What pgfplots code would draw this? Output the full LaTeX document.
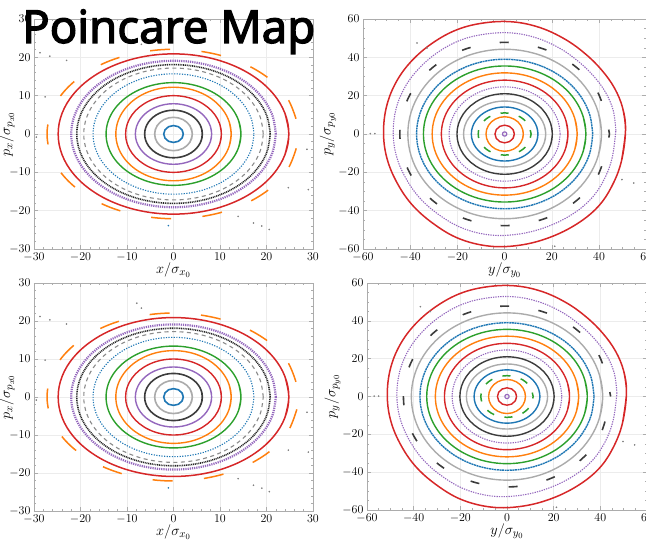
\documentclass[border=0pt]{standalone}
\usepackage{fontspec}
\usepackage{graphicx}
\usepackage{pgfplots}
\pgfplotsset{compat=1.18}
\newfontfamily\titlefont{Noto Sans}[FakeBold=2.6]
\definecolor{cblue}{HTML}{1F77B4}
\definecolor{corange}{HTML}{FF7F0E}
\definecolor{cgreen}{HTML}{2CA02C}
\definecolor{cred}{HTML}{D62728}
\definecolor{cpurple}{HTML}{9467BD}
\definecolor{cgray}{HTML}{8A8A8A}
\definecolor{clgray}{HTML}{ABABAB}
\definecolor{cdgray}{HTML}{3C3C3C}
\pgfplotsset{
  panel/.style={
    scale only axis, anchor=south west,
    axis line style={gray!65, line width=0.5pt},
    tick style={gray!65, line width=0.4pt},
    tick align=inside,
    major tick length=4pt, minor tick length=2pt,
    grid=major, major grid style={gray!15, line width=0.4pt},
    tick label style={font=\fontsize{11.5}{12}\selectfont},
    label style={font=\fontsize{15.5}{17}\selectfont},
    xlabel style={at={(axis description cs:0.5,0)}, anchor=center, yshift=-21pt},
  },
  ring/.style={smooth, tension=0.62, mark=none, line width=1.4pt},
}
\newcommand{\leftcurves}{%
\addplot[ring, cblue, line width=1.6pt] coordinates {(1.82,-1.1) (2.1,0) (1.82,1.1) (1.05,1.91) (0,2.2) (-1.05,1.91) (-1.82,1.1) (-2.1,0) (-1.82,-1.1) (-1.05,-1.91) (0,-2.2) (1.05,-1.91) (1.82,-1.1) (2.1,0) (1.82,1.1)};
\addplot[ring, clgray, line width=1.6pt] coordinates {(3.51,-2.18) (4.05,0) (3.51,2.18) (2.03,3.77) (0,4.35) (-2.03,3.77) (-3.51,2.18) (-4.05,0) (-3.51,-2.18) (-2.03,-3.77) (0,-4.35) (2.03,-3.77) (3.51,-2.18) (4.05,0) (3.51,2.18)};
\addplot[ring, cdgray, line width=1.6pt] coordinates {(5.99,-1.61) (6.2,0) (5.99,1.61) (5.37,3.1) (4.38,4.38) (3.1,5.37) (1.61,5.99) (0,6.2) (-1.61,5.99) (-3.1,5.37) (-4.38,4.38) (-5.37,3.1) (-5.99,1.61) (-6.2,0) (-5.99,-1.61) (-5.37,-3.1) (-4.38,-4.38) (-3.1,-5.37) (-1.61,-5.99) (0,-6.2) (1.61,-5.99) (3.1,-5.37) (4.38,-4.38) (5.37,-3.1) (5.99,-1.61) (6.2,0) (5.99,1.61)};
\addplot[ring, cpurple] coordinates {(7.92,-2.05) (8.2,0) (7.92,2.05) (7.1,3.95) (5.8,5.59) (4.1,6.84) (2.12,7.63) (0,7.9) (-2.12,7.63) (-4.1,6.84) (-5.8,5.59) (-7.1,3.95) (-7.92,2.05) (-8.2,0) (-7.92,-2.05) (-7.1,-3.95) (-5.8,-5.59) (-4.1,-6.84) (-2.12,-7.63) (0,-7.9) (2.12,-7.63) (4.1,-6.84) (5.8,-5.59) (7.1,-3.95) (7.92,-2.05) (8.2,0) (7.92,2.05)};
\addplot[ring, cred] coordinates {(9.95,-2.59) (10.3,0) (9.95,2.59) (8.92,5) (7.28,7.07) (5.15,8.66) (2.67,9.66) (0,10) (-2.67,9.66) (-5.15,8.66) (-7.28,7.07) (-8.92,5) (-9.95,2.59) (-10.3,0) (-9.95,-2.59) (-8.92,-5) (-7.28,-7.07) (-5.15,-8.66) (-2.67,-9.66) (0,-10) (2.67,-9.66) (5.15,-8.66) (7.28,-7.07) (8.92,-5) (9.95,-2.59) (10.3,0) (9.95,2.59)};
\addplot[ring, corange] coordinates {(11.98,-3.16) (12.4,0) (11.98,3.16) (10.74,6.1) (8.77,8.63) (6.2,10.57) (3.21,11.79) (0,12.2) (-3.21,11.79) (-6.2,10.57) (-8.77,8.63) (-10.74,6.1) (-11.98,3.16) (-12.4,0) (-11.98,-3.16) (-10.74,-6.1) (-8.77,-8.63) (-6.2,-10.57) (-3.21,-11.79) (0,-12.2) (3.21,-11.79) (6.2,-10.57) (8.77,-8.63) (10.74,-6.1) (11.98,-3.16) (12.4,0) (11.98,3.16)};
\addplot[ring, cgreen] coordinates {(14.01,-3.47) (14.5,0) (14.01,3.47) (12.56,6.7) (10.25,9.47) (7.25,11.6) (3.76,12.94) (0,13.4) (-3.76,12.94) (-7.25,11.6) (-10.25,9.47) (-12.56,6.7) (-14.01,3.47) (-14.5,0) (-14.01,-3.47) (-12.56,-6.7) (-10.25,-9.47) (-7.25,-11.6) (-3.76,-12.94) (0,-13.4) (3.76,-12.94) (7.25,-11.6) (10.25,-9.47) (12.56,-6.7) (14.01,-3.47) (14.5,0) (14.01,3.47)};
\addplot[ring, cblue, line width=1.1pt, dash pattern=on 1.2pt off 1.4pt] coordinates {(17.3,0) (16.71,4.07) (14.98,7.85) (12.23,11.1) (8.65,13.6) (4.48,15.17) (0,15.7) (-4.48,15.17) (-8.65,13.6) (-12.23,11.1) (-14.98,7.85) (-16.71,4.07) (-17.3,0) (-16.71,-4.07) (-14.98,-7.85) (-12.23,-11.1) (-8.65,-13.6) (-4.48,-15.17) (0,-15.7) (4.48,-15.17) (8.65,-13.6) (12.23,-11.1) (14.98,-7.85) (16.71,-4.07) (17.3,0)};
\addplot[ring, cgray, line width=1.1pt, dash pattern=on 4pt off 3.5pt] coordinates {(19.3,0) (18.64,4.45) (16.71,8.6) (13.65,12.16) (9.65,14.9) (5,16.62) (0,17.2) (-5,16.62) (-9.65,14.9) (-13.65,12.16) (-16.71,8.6) (-18.64,4.45) (-19.3,0) (-18.64,-4.45) (-16.71,-8.6) (-13.65,-12.16) (-9.65,-14.9) (-5,-16.62) (0,-17.2) (5,-16.62) (9.65,-14.9) (13.65,-12.16) (16.71,-8.6) (18.64,-4.45) (19.3,0)};
\addplot[ring, black!85, line width=1.6pt, dash pattern=on 1pt off 0.8pt] coordinates {(20.8,0) (20.09,4.69) (18.01,9.05) (14.71,12.8) (10.4,15.67) (5.39,17.48) (0,18.1) (-5.39,17.48) (-10.4,15.67) (-14.71,12.8) (-18.01,9.05) (-20.09,4.69) (-20.8,0) (-20.09,-4.69) (-18.01,-9.05) (-14.71,-12.8) (-10.4,-15.67) (-5.39,-17.48) (0,-18.1) (5.39,-17.48) (10.4,-15.67) (14.71,-12.8) (18.01,-9.05) (20.09,-4.69) (20.8,0)};
\addplot[ring, cpurple, line width=2.2pt, dash pattern=on 1.2pt off 1pt] coordinates {(22,0) (21.25,4.95) (19.05,9.55) (15.55,13.5) (11,16.54) (5.7,18.45) (0,19.1) (-5.7,18.45) (-11,16.54) (-15.55,13.5) (-19.05,9.55) (-21.25,4.95) (-22,0) (-21.25,-4.95) (-19.05,-9.55) (-15.55,-13.5) (-11,-16.54) (-5.7,-18.45) (0,-19.1) (5.7,-18.45) (11,-16.54) (15.55,-13.5) (19.05,-9.55) (21.25,-4.95) (22,0)};
\addplot[ring, cred, line width=1.5pt] coordinates {(23.96,-5.41) (24.8,0) (23.96,5.41) (21.48,10.45) (17.53,14.78) (12.4,18.1) (6.42,20.19) (0,20.9) (-6.42,20.19) (-12.4,18.1) (-17.53,14.78) (-21.48,10.45) (-23.96,5.41) (-24.8,0) (-23.96,-5.41) (-21.48,-10.45) (-17.53,-14.78) (-12.4,-18.1) (-6.42,-20.19) (0,-20.9) (6.42,-20.19) (12.4,-18.1) (17.53,-14.78) (21.48,-10.45) (23.96,-5.41) (24.8,0) (23.96,5.41)};
\addplot[ring, corange, line width=1.5pt, dash pattern=on 20pt off 31.5pt, dash phase=35.75pt] coordinates {(27.2,0) (23.56,11.05) (13.6,19.14) (0,22.1) (-13.6,19.14) (-23.56,11.05) (-27.2,0) (-23.56,-11.05) (-13.6,-19.14) (0,-22.1) (13.6,-19.14) (23.56,-11.05) (27.2,0)};
\addplot[only marks, mark=*, mark size=0.6pt, gray] coordinates {(-28.7,21.2) (-26.6,20.3) (-23,19.2) (-7.9,24.7) (-6.9,23.4) (-27.6,9.7) (-29.5,-0.8) (13.9,-21.5) (17.2,-23.2) (19,-24) (20.6,-24.9) (24.7,-14) (29,-14.5) (28.7,-4)};
\addplot[only marks, mark=*, mark size=0.6pt, cblue] coordinates {(-1.1,-23.9)};
}
\newcommand{\rightcurves}{%
\addplot[ring, cpurple, line width=1.2pt] coordinates {(0.78,-0.55) (0.9,0) (0.78,0.55) (0.45,0.95) (0,1.1) (-0.45,0.95) (-0.78,0.55) (-0.9,0) (-0.78,-0.55) (-0.45,-0.95) (0,-1.1) (0.45,-0.95) (0.78,-0.55) (0.9,0) (0.78,0.55)};
\addplot[ring, cred] coordinates {(3.55,-2.3) (4.1,0) (3.55,2.3) (2.05,3.98) (0,4.6) (-2.05,3.98) (-3.55,2.3) (-4.1,0) (-3.55,-2.3) (-2.05,-3.98) (0,-4.6) (2.05,-3.98) (3.55,-2.3) (4.1,0) (3.55,2.3)};
\addplot[ring, corange] coordinates {(7.63,-2.33) (7.9,0) (7.63,2.33) (6.84,4.5) (5.59,6.36) (3.95,7.79) (2.05,8.69) (0,9) (-2.05,8.69) (-3.95,7.79) (-5.59,6.36) (-6.84,4.5) (-7.63,2.33) (-7.9,0) (-7.63,-2.33) (-6.84,-4.5) (-5.59,-6.36) (-3.95,-7.79) (-2.05,-8.69) (0,-9) (2.05,-8.69) (3.95,-7.79) (5.59,-6.36) (6.84,-4.5) (7.63,-2.33) (7.9,0) (7.63,2.33)};
\addplot[ring, cgreen, line width=1.5pt, dash pattern=on 8pt off 10.7pt, dash phase=4pt] coordinates {(11.2,0) (9.7,5.5) (5.6,9.53) (0,11) (-5.6,9.53) (-9.7,5.5) (-11.2,0) (-9.7,-5.5) (-5.6,-9.53) (0,-11) (5.6,-9.53) (9.7,-5.5) (11.2,0)};
\addplot[ring, cblue] coordinates {(13.62,-3.65) (14.1,0) (13.62,3.65) (12.21,7.05) (9.97,9.97) (7.05,12.21) (3.65,13.62) (0,14.1) (-3.65,13.62) (-7.05,12.21) (-9.97,9.97) (-12.21,7.05) (-13.62,3.65) (-14.1,0) (-13.62,-3.65) (-12.21,-7.05) (-9.97,-9.97) (-7.05,-12.21) (-3.65,-13.62) (0,-14.1) (3.65,-13.62) (7.05,-12.21) (9.97,-9.97) (12.21,-7.05) (13.62,-3.65) (14.1,0) (13.62,3.65)};
\addplot[ring, clgray] coordinates {(16.81,-4.45) (17.4,0) (16.81,4.45) (15.07,8.6) (12.3,12.16) (8.7,14.9) (4.51,16.62) (0,17.2) (-4.51,16.62) (-8.7,14.9) (-12.3,12.16) (-15.07,8.6) (-16.81,4.45) (-17.4,0) (-16.81,-4.45) (-15.07,-8.6) (-12.3,-12.16) (-8.7,-14.9) (-4.51,-16.62) (0,-17.2) (4.51,-16.62) (8.7,-14.9) (12.3,-12.16) (15.07,-8.6) (16.81,-4.45) (17.4,0) (16.81,4.45)};
\addplot[ring, cdgray] coordinates {(19.51,-5.44) (20.2,0) (19.51,5.44) (17.49,10.5) (14.28,14.85) (10.1,18.19) (5.23,20.29) (0,21) (-5.23,20.29) (-10.1,18.19) (-14.28,14.85) (-17.49,10.5) (-19.51,5.44) (-20.2,0) (-19.51,-5.44) (-17.49,-10.5) (-14.28,-14.85) (-10.1,-18.19) (-5.23,-20.29) (0,-21) (5.23,-20.29) (10.1,-18.19) (14.28,-14.85) (17.49,-10.5) (19.51,-5.44) (20.2,0) (19.51,5.44)};
\addplot[ring, cpurple, line width=1.1pt, dash pattern=on 1.3pt off 1.1pt] coordinates {(23.5,0) (22.7,6.37) (20.35,12.3) (16.61,17.39) (11.75,21.3) (6.09,23.76) (0,24.6) (-6.09,23.76) (-11.75,21.3) (-16.61,17.39) (-20.35,12.3) (-22.7,6.37) (-23.5,0) (-22.7,-6.37) (-20.35,-12.3) (-16.61,-17.39) (-11.75,-21.3) (-6.09,-23.76) (0,-24.6) (6.09,-23.76) (11.75,-21.3) (16.61,-17.39) (20.35,-12.3) (22.7,-6.37) (23.5,0)};
\addplot[ring, cred] coordinates {(25.89,-7.28) (26.8,0) (25.89,7.28) (23.21,14.05) (18.95,19.87) (13.4,24.33) (6.94,27.14) (0,28.1) (-6.94,27.14) (-13.4,24.33) (-18.95,19.87) (-23.21,14.05) (-25.89,7.28) (-26.8,0) (-25.89,-7.28) (-23.21,-14.05) (-18.95,-19.87) (-13.4,-24.33) (-6.94,-27.14) (0,-28.1) (6.94,-27.14) (13.4,-24.33) (18.95,-19.87) (23.21,-14.05) (25.89,-7.28) (26.8,0) (25.89,7.28)};
\addplot[ring, corange] coordinates {(29.66,-8.26) (30.7,0) (29.66,8.26) (26.59,15.95) (21.7,22.55) (15.35,27.63) (7.95,30.82) (0,31.9) (-7.95,30.82) (-15.35,27.63) (-21.7,22.55) (-26.59,15.95) (-29.66,8.26) (-30.7,0) (-29.66,-8.26) (-26.59,-15.95) (-21.7,-22.55) (-15.35,-27.63) (-7.95,-30.82) (0,-31.9) (7.95,-30.82) (15.35,-27.63) (21.7,-22.55) (26.59,-15.95) (29.66,-8.26) (30.7,0) (29.66,8.26)};
\addplot[ring, cgreen] coordinates {(33.23,-9.19) (34.4,0) (33.23,9.19) (29.79,17.75) (24.32,25.1) (17.2,30.74) (8.91,34.29) (0,35.5) (-8.91,34.29) (-17.2,30.74) (-24.32,25.1) (-29.79,17.75) (-33.23,9.19) (-34.4,0) (-33.23,-9.19) (-29.79,-17.75) (-24.32,-25.1) (-17.2,-30.74) (-8.91,-34.29) (0,-35.5) (8.91,-34.29) (17.2,-30.74) (24.32,-25.1) (29.79,-17.75) (33.23,-9.19) (34.4,0) (33.23,9.19)};
\addplot[ring, cblue, dash pattern=on 2pt off 0.6pt] coordinates {(37.3,0) (36.03,10.1) (32.3,19.5) (26.37,27.57) (18.65,33.77) (9.66,37.67) (0,39) (-9.66,37.67) (-18.65,33.77) (-26.37,27.57) (-32.3,19.5) (-36.03,10.1) (-37.3,0) (-36.03,-10.1) (-32.3,-19.5) (-26.37,-27.57) (-18.65,-33.77) (-9.66,-37.67) (0,-39) (9.66,-37.67) (18.65,-33.77) (26.37,-27.57) (32.3,-19.5) (36.03,-10.1) (37.3,0)};
\addplot[ring, clgray] coordinates {(39.61,-11.45) (41,0) (39.61,11.45) (35.51,22.1) (28.99,31.25) (20.5,38.28) (10.62,42.7) (0,44.2) (-10.62,42.7) (-20.5,38.28) (-28.99,31.25) (-35.51,22.1) (-39.61,11.45) (-41,0) (-39.61,-11.45) (-35.51,-22.1) (-28.99,-31.25) (-20.5,-38.28) (-10.62,-42.7) (0,-44.2) (10.62,-42.7) (20.5,-38.28) (28.99,-31.25) (35.51,-22.1) (39.61,-11.45) (41,0) (39.61,11.45)};
\addplot[ring, cdgray, line width=1.6pt, dash pattern=on 9pt off 29.6pt, dash phase=4.5pt] coordinates {(44.4,0) (38.45,23.9) (22.2,41.39) (0,47.8) (-22.2,41.39) (-38.45,23.9) (-44.4,0) (-38.45,-23.9) (-22.2,-41.39) (0,-47.8) (22.2,-41.39) (38.45,-23.9) (44.4,0)};
\addplot[ring, cpurple, line width=1.1pt, dash pattern=on 1.3pt off 1.1pt] coordinates {(47.1,1.8) (46.0,12.2) (42.8,21.6) (37.7,30.2) (31.3,37.8) (23.5,44.6) (13.8,50.0) (3.2,52.7) (-7.8,52.2) (-18.4,49.1) (-28.1,42.8) (-36.3,34.2) (-42.3,24.3) (-46.0,13.1) (-47.2,0.9) (-46.0,-10.8) (-42.3,-22.1) (-36.3,-32.9) (-28.1,-41.9) (-17.9,-49.1) (-6.0,-52.7) (6.0,-52.2) (17.5,-48.6) (28.1,-42.3) (36.3,-34.2) (41.9,-24.3) (45.5,-12.6) (47.1,1.8)};
\addplot[ring, cred, line width=1.5pt] coordinates {(49.5,-14.0) (51.2,2.0) (50.0,13.5) (46.5,24.0) (41.0,33.5) (34.0,42.0) (25.5,49.5) (15.0,55.5) (3.5,58.5) (-8.5,58.0) (-20.0,54.5) (-30.5,47.5) (-39.5,38.0) (-46.0,27.0) (-50.0,14.5) (-51.3,1.0) (-50.0,-12.0) (-46.0,-24.5) (-39.5,-36.5) (-30.5,-46.5) (-19.5,-54.5) (-6.5,-58.5) (6.5,-58.0) (19.0,-54.0) (30.5,-47.0) (39.5,-38.0) (45.5,-27.0) (49.5,-14.0) (51.2,2.0) (50.0,13.5)};
\addplot[only marks, mark=*, mark size=0.6pt, gray] coordinates {(-37.1,47.5) (-32.9,44.9) (-56.9,0.2) (-55,0.2) (49.7,-23.8) (54.7,-25.6) (21.2,-58.6)};
}
\begin{document}
\begin{tikzpicture}
% top left
\begin{axis}[panel, at={(34pt,293pt)}, width=279pt, height=230pt,
  xmin=-30, xmax=30, ymin=-30, ymax=30,
  xtick={-30,-20,...,30}, ytick={-30,-20,...,30},
  minor x tick num=4, minor y tick num=4,
  xlabel={$x/\sigma_{x_0}$}, ylabel={$p_x/\sigma_{p_{x0}}$},
  ylabel style={at={(axis description cs:-0.0968,0.5)}, anchor=center}]
\leftcurves
\end{axis}
% top right
\begin{axis}[panel, at={(363pt,293pt)}, width=283.3pt, height=230pt,
  xmin=-60, xmax=60, ymin=-60, ymax=60,
  xtick={-60,-40,...,60}, ytick={-60,-40,...,60},
  minor x tick num=3, minor y tick num=3,
  xlabel={$y/\sigma_{y_0}$}, ylabel={$p_y/\sigma_{p_{y0}}$},
  ylabel style={at={(axis description cs:-0.1235,0.5)}, anchor=center}]
\rightcurves
\end{axis}
% bottom left
\begin{axis}[panel, at={(34pt,31pt)}, width=279pt, height=228pt,
  xmin=-30, xmax=30, ymin=-30, ymax=30,
  xtick={-30,-20,...,30}, ytick={-30,-20,...,30},
  minor x tick num=4, minor y tick num=4,
  xlabel={$x/\sigma_{x_0}$}, ylabel={$p_x/\sigma_{p_{x0}}$},
  ylabel style={at={(axis description cs:-0.0968,0.5)}, anchor=center}]
\leftcurves
\end{axis}
% bottom right
\begin{axis}[panel, at={(367pt,32pt)}, width=280pt, height=227pt,
  xmin=-60, xmax=60, ymin=-60, ymax=60,
  xtick={-60,-40,...,60}, ytick={-60,-40,...,60},
  minor x tick num=3, minor y tick num=3,
  xlabel={$y/\sigma_{y_0}$}, ylabel={$p_y/\sigma_{p_{y0}}$},
  ylabel style={at={(axis description cs:-0.1225,0.5)}, anchor=center}]
\rightcurves
\end{axis}
\node[anchor=base west, inner sep=0pt] at (22pt,499pt) {\resizebox{293pt}{!}{\titlefont Poincare Map}};
\pgfresetboundingbox
\useasboundingbox (0pt,0pt) rectangle (646pt,542pt);
\end{tikzpicture}
\end{document}
